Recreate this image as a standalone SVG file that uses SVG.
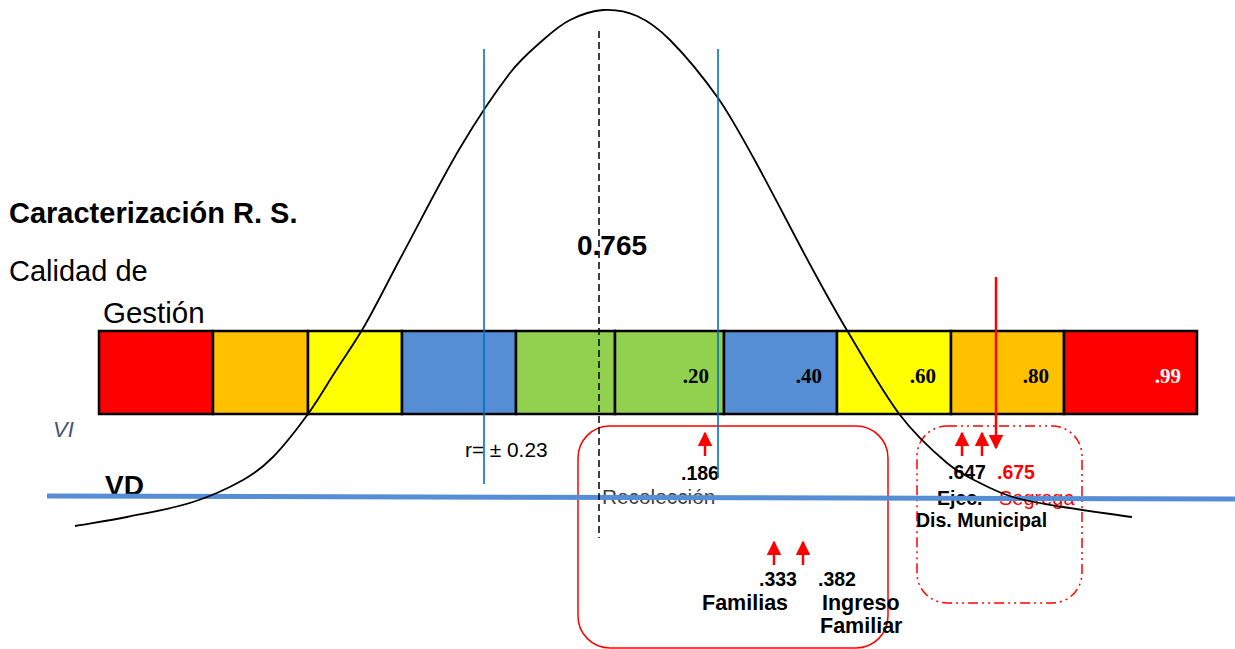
<svg xmlns="http://www.w3.org/2000/svg" width="1235" height="649" viewBox="0 0 1235 649">
<style>
.cell{stroke:#000;stroke-width:2.5}
.cv{font-family:"Liberation Serif","Times New Roman",serif;font-weight:bold;font-size:21px;text-anchor:end}
.s{font-family:"Liberation Sans",Arial,sans-serif}
.b{font-weight:bold}
.lbl{font-family:"Liberation Sans",Arial,sans-serif;font-weight:bold;font-size:19.5px}
.lbl2{font-family:"Liberation Sans",Arial,sans-serif;font-weight:bold;font-size:21.5px}
.vblue{stroke:#0070C0;stroke-width:1.6;fill:none}
.arr{stroke:#FF0000;stroke-width:2.5;fill:none}
</style>
<defs>
<marker id="ah" viewBox="0 0 10 10" refX="9" refY="5" markerWidth="5.8" markerHeight="5.8" orient="auto" markerUnits="strokeWidth">
<path d="M0,0 L10,5 L0,10 z" fill="#FF0000"/>
</marker>
</defs>
<rect width="1235" height="649" fill="#fff"/>

<g id="bar">
<rect class="cell" x="99" y="331" width="114" height="83" fill="#FF0000"/>
<rect class="cell" x="213" y="331" width="95" height="83" fill="#FFC000"/>
<rect class="cell" x="308" y="331" width="94" height="83" fill="#FFFF00"/>
<rect class="cell" x="402" y="331" width="114" height="83" fill="#558ED5"/>
<rect class="cell" x="516" y="331" width="99" height="83" fill="#92D050"/>
<rect class="cell" x="615" y="331" width="109" height="83" fill="#92D050"/>
<rect class="cell" x="724" y="331" width="113" height="83" fill="#558ED5"/>
<rect class="cell" x="837" y="331" width="114" height="83" fill="#FFFF00"/>
<rect class="cell" x="951" y="331" width="113" height="83" fill="#FFC000"/>
<rect class="cell" x="1064" y="331" width="133" height="83" fill="#FF0000"/>
<text class="cv" x="709" y="383">.20</text>
<text class="cv" x="822" y="383">.40</text>
<text class="cv" x="936" y="383">.60</text>
<text class="cv" x="1049" y="383">.80</text>
<text class="cv" x="1181" y="383" fill="#fff">.99</text>
</g>

<g id="titles">
<text class="s b" x="9" y="223" font-size="29">Caracterización R. S.</text>
<text class="s" x="9" y="281" font-size="29">Calidad de</text>
<text class="s" x="103" y="323" font-size="29.5">Gestión</text>
<text class="s" x="53" y="437" font-size="22" font-style="italic" fill="#44546A">VI</text>
<text class="s b" x="105" y="495" font-size="28">VD</text>
<text class="s b" x="577" y="255" font-size="28">0.765</text>
<text class="s" x="465" y="457" font-size="20.8">r= ± 0.23</text>
</g>

<g id="recoleccion">
<rect x="578" y="426" width="310" height="222" rx="32" fill="none" stroke="#FF0000" stroke-width="1.5"/>
<text class="lbl" x="681" y="480">.186</text>
<text class="s" x="602" y="504" font-size="20.8" fill="#404040">Recolección</text>
<text class="lbl" x="759" y="586">.333</text>
<text class="lbl" x="818" y="586">.382</text>
<text class="lbl2" x="702" y="610">Familias</text>
<text class="lbl2" x="822" y="610">Ingreso</text>
<text class="lbl2" x="820" y="633">Familiar</text>
</g>

<g id="municipal">
<rect x="917" y="426" width="165" height="177" rx="30" fill="none" stroke="#FF0000" stroke-width="1.5" stroke-dasharray="10 4 2 4 2 4"/>
<text class="lbl" x="948" y="479">.647</text>
<text class="lbl" x="997" y="479" fill="#FF0000">.675</text>
<text class="lbl" x="937" y="505">Ejec.</text>
<text class="s" x="999" y="505" font-size="20" fill="#FF0000">Segrega</text>
<text class="lbl" x="916" y="527">Dis. Municipal</text>
</g>

<g id="connectors">
<line x1="47" y1="496" x2="1235" y2="499" stroke="#558ED5" stroke-width="5"/>
<path d="M75,526 C92.33,523 109.67,520.52 127,517 C149,512.53 171,509.02 193,502 C209.67,496.68 226.33,489.38 243,480 C253,474.38 263,467.15 273,457 C284.67,445.16 296.33,430 308,414 C317,401.66 326,386.05 335,372 C345,356.39 355,342.38 365,325 C376.67,304.72 388.33,280.74 400,259 C420,221.74 440,181.82 460,148 C476.67,119.81 493.33,94.69 510,73 C521,58.69 532,49.71 543,40 C552,32.05 561,24.5 570,20 C581,14.5 592,10.66 603,10 C614.33,9.32 625.67,10.92 637,16 C648,20.93 659,28.87 670,40 C686,56.19 702,75.44 718,98 C729.67,114.45 741.33,135.87 753,157 C773,193.22 793,233.16 813,270 C824.67,291.49 836.33,312.55 848,332 C865.33,360.89 882.67,392.07 900,415 C915.67,435.73 931.33,449.68 947,463 C958,472.35 969,477.33 980,483 C991,488.67 1002,493.82 1013,497 C1029.67,501.82 1046.33,504.2 1063,507 C1086,510.86 1109,513.66 1132,517" fill="none" stroke="#000" stroke-width="1.8"/>
<line x1="599" y1="31" x2="599" y2="538" stroke="#000" stroke-width="1.5" stroke-dasharray="7 4"/>
<line class="vblue" x1="484" y1="49" x2="484" y2="484"/>
<line class="vblue" x1="718" y1="49" x2="718" y2="478"/>
<line class="arr" x1="705" y1="456" x2="705" y2="433" marker-end="url(#ah)"/>
<line class="arr" x1="774" y1="565" x2="774" y2="542" marker-end="url(#ah)"/>
<line class="arr" x1="803" y1="565" x2="803" y2="542" marker-end="url(#ah)"/>
<line class="arr" x1="962" y1="456" x2="962" y2="433" marker-end="url(#ah)"/>
<line class="arr" x1="982" y1="456" x2="982" y2="433" marker-end="url(#ah)"/>
<line class="arr" x1="996" y1="277" x2="996" y2="448" marker-end="url(#ah)"/>
</g>
</svg>
